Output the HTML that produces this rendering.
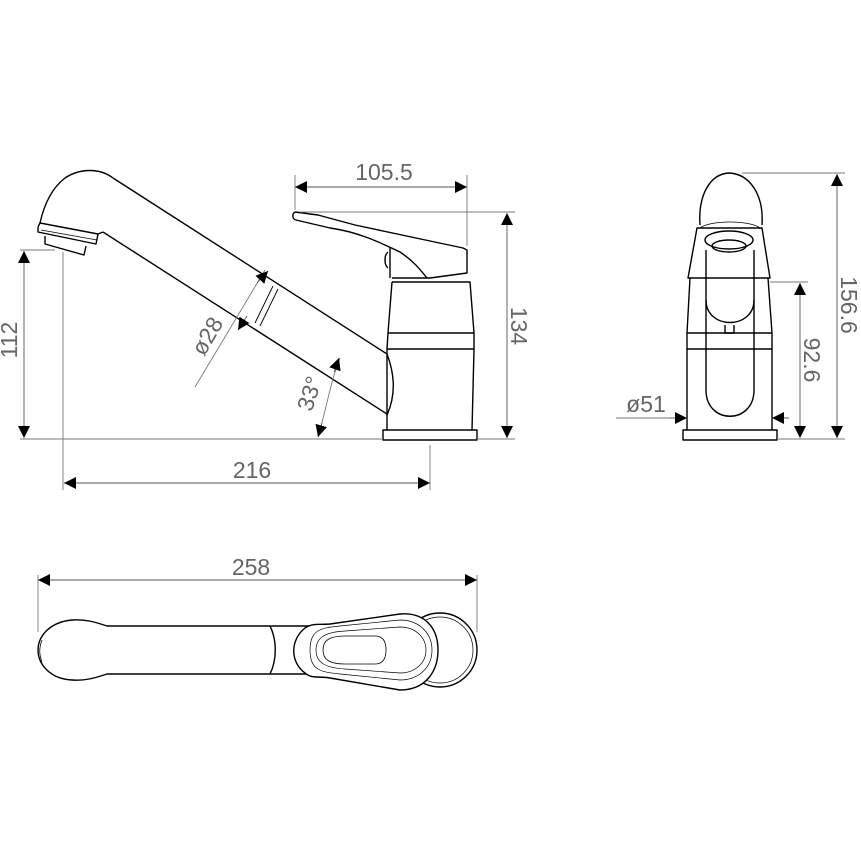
<!DOCTYPE html>
<html><head><style>html,body{margin:0;padding:0;background:#fff}svg{display:block}</style></head><body>
<svg width="861" height="861" viewBox="0 0 861 861" xmlns="http://www.w3.org/2000/svg">
<defs>
<marker id="a" markerWidth="12" markerHeight="12" refX="12" refY="6" orient="auto-start-reverse" markerUnits="userSpaceOnUse"><path d="M0,0 L12,6 L0,12 z" fill="#000"/></marker>
</defs>
<g fill="none" stroke="#000" stroke-width="1.4" stroke-linejoin="round">
<!-- side view spout -->
<path d="M113,178 L387,354"/>
<path d="M103,232 L387,414"/>
<path d="M113,178 C100,168 80,168 65,178 C52,188 44,205 40,223"/>
<path d="M38,227 L40,223 L98,234 L103,232"/>
<path d="M38,227 L38,232 L96,244 L98,234"/>
<path d="M45,236 L45,244 L84,255 L86,246"/>
<path d="M41,230 L97,240" stroke-width="0.7"/>
<path d="M255,323 L273,286 M260,326 L278,289" stroke-width="0.9"/>
<!-- body -->
<path d="M295,212 L318,215 L355,225 L463,248 L467,250 L467,273 L430,278 L392,278"/>
<path d="M295,212 C292,214 292,219 296,220 L330,228 C360,232 385,245 400,252 C415,262 422,272 427,278"/>
<path d="M390,247 L390,278 M388,252 C384,255 384,265 388,268"/>
<path d="M392,282 L470,282 L474,333 L474,349 L472,430 M392,282 L388,333 L387,349 L387,430"/>
<path d="M388,333 L474,333 M387,349 L474,349"/>
<path d="M387,354 C395,375 396,395 387,415"/>
<path d="M383,430 L477,430 L477,440 L383,440 Z"/>
<!-- front view -->
<path d="M700,225 C698,195 710,174 729,173 C750,174 764,195 762,225"/>
<path d="M697,228 L762,228 L770,278 L688,278 Z"/>
<path d="M700,228 C710,220 750,220 760,228" stroke-width="0.8"/>
<ellipse cx="729" cy="240" rx="24" ry="9"/>
<ellipse cx="729" cy="246" rx="17" ry="6"/>
<path d="M706,250 L706,300 C706,330 754,330 754,300 L754,250"/>
<path d="M706,300 L706,390 C706,425 754,425 754,390 L754,300"/>
<path d="M725,325 L725,333 L734,333 L734,325"/>
<path d="M690,278 L687,333 L687,430 M768,278 L772,333 L772,430 M687,333 L772,333 M687,349 L772,349"/>
<path d="M683,430 L777,430 L777,440 L683,440 Z"/>
<!-- top view -->
<path d="M107,626 L270,626 M107,674 L270,674 M270,626 L310,626 M270,674 L310,674"/>
<path d="M107,626 C95,622 85,619 72,620 C50,622 38,636 38,650 C38,664 50,679 72,680 C85,681 95,678 107,674"/>
<path d="M270,626 C277,640 277,660 270,674"/>
<path d="M42,640 C39,648 39,654 42,662" stroke-width="0.8"/>
<circle cx="440" cy="650" r="37"/>
<circle cx="440" cy="650" r="33" stroke-width="0.7"/>
<path fill="#fff" d="M305,628 C290,640 290,662 305,673 C312,679 318,676 330,678 L400,690 C425,690 438,672 438,650 C438,628 425,612 400,614 L330,624 C318,625 312,623 305,628 Z"/>
<path d="M310,650 C310,630 320,628 340,626 L400,620 C418,620 432,632 432,650 C432,668 418,680 400,680 L340,674 C320,672 310,670 310,650 Z" stroke-width="0.7"/>
<path d="M316,650 C316,636 328,632 345,631 L400,627 C415,627 426,637 426,650 C426,663 415,673 400,673 L345,669 C328,668 316,664 316,650 Z" stroke-width="0.7"/>
<path d="M323,650 C323,640 330,636 345,636 L375,636 C384,636 386,643 386,650 C386,657 384,664 375,664 L345,664 C330,664 323,660 323,650 Z" stroke-width="0.8"/>
</g>
<g fill="none" stroke="#777" stroke-width="0.9">
<path d="M20,439 L383,439 M477,439 L515,439 M777,439 L845,439"/>
<path d="M295,175 L295,210 M467,175 L467,246 M300,212 L515,212"/>
<path d="M20,250 L55,250 M63,252 L63,490 M430,445 L430,490"/>
<path d="M742,173 L845,173 M770,282 L808,282"/>
<path d="M38,575 L38,632 M477,575 L477,632"/>
<path d="M195,387 L265,270"/>
<path d="M318,437 C326,410 331,380 340,358"/>
<path d="M616,418 L687,418"/>
</g>
<g stroke="#555" stroke-width="0.9" fill="none">
<line x1="295" y1="187" x2="467" y2="187" marker-start="url(#a)" marker-end="url(#a)"/>
<line x1="507" y1="213" x2="507" y2="438" marker-start="url(#a)" marker-end="url(#a)"/>
<line x1="24" y1="251" x2="24" y2="438" marker-start="url(#a)" marker-end="url(#a)"/>
<line x1="64" y1="483" x2="430" y2="483" marker-start="url(#a)" marker-end="url(#a)"/>
<line x1="38" y1="580" x2="477" y2="580" marker-start="url(#a)" marker-end="url(#a)"/>
<line x1="837" y1="174" x2="837" y2="438" marker-start="url(#a)" marker-end="url(#a)"/>
<line x1="800" y1="283" x2="800" y2="438" marker-start="url(#a)" marker-end="url(#a)"/>
<line x1="670" y1="418" x2="687" y2="418" marker-end="url(#a)"/>
<line x1="789" y1="418" x2="772" y2="418" marker-end="url(#a)"/>
<line x1="257" y1="283" x2="268" y2="271" marker-end="url(#a)"/>
<line x1="247" y1="316" x2="238" y2="330" marker-end="url(#a)"/>
<line x1="322" y1="423" x2="318" y2="437" marker-end="url(#a)"/>
<line x1="334" y1="372" x2="339" y2="358" marker-end="url(#a)"/>
</g>
<g font-family="Liberation Sans, sans-serif" font-size="23" fill="#666" text-anchor="middle">
<text x="384" y="180">105.5</text>
<text x="252" y="478">216</text>
<text x="251" y="575">258</text>
<text transform="translate(17,340) rotate(-90)">112</text>
<text transform="translate(511,326) rotate(90)">134</text>
<text transform="translate(841,305) rotate(90)">156.6</text>
<text transform="translate(804,360) rotate(90)">92.6</text>
<text transform="translate(214,340) rotate(-60)">ø28</text>
<text transform="translate(317,396) rotate(-72)">33°</text>
<text x="646" y="412">ø51</text>
</g>
</svg>
</body></html>
